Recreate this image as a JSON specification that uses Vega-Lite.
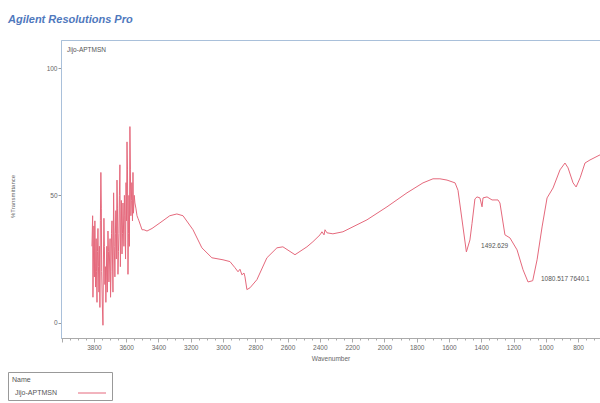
{
  "$schema": "https://vega.github.io/schema/vega-lite/v6.json",
  "autosize": "none",
  "width": 539,
  "height": 298,
  "padding": {"left": 61, "top": 40, "right": 0, "bottom": 65},
  "background": "white",
  "config": {
    "font": "Liberation Sans",
    "view": {"stroke": "#a9c0da", "strokeWidth": 1}
  },
  "title": {
    "text": "Agilent Resolutions Pro",
    "anchor": "start",
    "frame": "group",
    "dx": -53,
    "offset": 15,
    "font": "Liberation Sans",
    "fontSize": 11,
    "fontWeight": "bold",
    "fontStyle": "italic",
    "color": "#4f78bd"
  },
  "datasets": {
    "spectrum": [
      {"w": 3812, "t": 30}, {"w": 3808, "t": 42}, {"w": 3806, "t": 10}, {"w": 3803, "t": 25}, {"w": 3800, "t": 38},
      {"w": 3797, "t": 18}, {"w": 3794, "t": 40}, {"w": 3790, "t": 14}, {"w": 3786, "t": 33}, {"w": 3784, "t": 20}, {"w": 3781, "t": 8},
      {"w": 3778, "t": 28}, {"w": 3775, "t": 37}, {"w": 3772, "t": 22}, {"w": 3769, "t": 12}, {"w": 3766, "t": 30}, {"w": 3763, "t": 6},
      {"w": 3760, "t": 40}, {"w": 3757, "t": 59}, {"w": 3754, "t": 45}, {"w": 3752, "t": 20}, {"w": 3747, "t": 5},
      {"w": 3744, "t": -1}, {"w": 3741, "t": 25}, {"w": 3738, "t": 41}, {"w": 3735, "t": 30}, {"w": 3732, "t": 15},
      {"w": 3729, "t": 22}, {"w": 3726, "t": 8}, {"w": 3720, "t": 30}, {"w": 3717, "t": 12}, {"w": 3713, "t": 36}, {"w": 3710, "t": 28}, {"w": 3707, "t": 16},
      {"w": 3700, "t": 33}, {"w": 3697, "t": 10}, {"w": 3694, "t": 20}, {"w": 3691, "t": 35}, {"w": 3688, "t": 40}, {"w": 3685, "t": 25}, {"w": 3682, "t": 12},
      {"w": 3678, "t": 51}, {"w": 3674, "t": 30}, {"w": 3670, "t": 18}, {"w": 3667, "t": 35}, {"w": 3664, "t": 44}, {"w": 3661, "t": 25},
      {"w": 3657, "t": 56}, {"w": 3654, "t": 45}, {"w": 3651, "t": 19}, {"w": 3648, "t": 28}, {"w": 3645, "t": 35}, {"w": 3642, "t": 50}, {"w": 3639, "t": 62},
      {"w": 3636, "t": 22}, {"w": 3633, "t": 38}, {"w": 3630, "t": 48}, {"w": 3626, "t": 27}, {"w": 3623, "t": 35}, {"w": 3620, "t": 47}, {"w": 3614, "t": 30},
      {"w": 3611, "t": 50}, {"w": 3608, "t": 42}, {"w": 3604, "t": 25}, {"w": 3601, "t": 55}, {"w": 3598, "t": 40}, {"w": 3595, "t": 71}, {"w": 3592, "t": 60}, {"w": 3589, "t": 19},
      {"w": 3586, "t": 35}, {"w": 3583, "t": 50}, {"w": 3580, "t": 30}, {"w": 3577, "t": 77}, {"w": 3574, "t": 60}, {"w": 3571, "t": 42}, {"w": 3568, "t": 48}, {"w": 3565, "t": 55},
      {"w": 3561, "t": 40}, {"w": 3558, "t": 59}, {"w": 3555, "t": 43}, {"w": 3550, "t": 50}, {"w": 3546, "t": 47},
      {"w": 3540, "t": 45}, {"w": 3533, "t": 42}, {"w": 3527, "t": 41}, {"w": 3521, "t": 40},
      {"w": 3510, "t": 38}, {"w": 3502, "t": 36.5}, {"w": 3490, "t": 36.5}, {"w": 3471, "t": 36},
      {"w": 3440, "t": 37}, {"w": 3391, "t": 39.2}, {"w": 3330, "t": 42}, {"w": 3286, "t": 42.7},
      {"w": 3248, "t": 42}, {"w": 3186, "t": 36.5}, {"w": 3131, "t": 29.4}, {"w": 3069, "t": 25.5},
      {"w": 3000, "t": 24.7}, {"w": 2957, "t": 24}, {"w": 2926, "t": 21.6}, {"w": 2907, "t": 20},
      {"w": 2895, "t": 21}, {"w": 2883, "t": 18.8}, {"w": 2870, "t": 19.5}, {"w": 2864, "t": 18},
      {"w": 2852, "t": 13}, {"w": 2833, "t": 13.7}, {"w": 2790, "t": 16.9}, {"w": 2728, "t": 25.5},
      {"w": 2666, "t": 29.4}, {"w": 2629, "t": 29.8}, {"w": 2554, "t": 26.7}, {"w": 2480, "t": 29.8},
      {"w": 2443, "t": 31.8}, {"w": 2399, "t": 34.5}, {"w": 2387, "t": 35.7}, {"w": 2374, "t": 34.5},
      {"w": 2368, "t": 36.5}, {"w": 2356, "t": 35.3}, {"w": 2319, "t": 34.9}, {"w": 2257, "t": 35.7},
      {"w": 2108, "t": 40.4}, {"w": 1984, "t": 45.5}, {"w": 1860, "t": 51}, {"w": 1761, "t": 54.9},
      {"w": 1699, "t": 56.5}, {"w": 1656, "t": 56.5}, {"w": 1612, "t": 56}, {"w": 1562, "t": 54.9},
      {"w": 1544, "t": 52}, {"w": 1513, "t": 37.6}, {"w": 1492, "t": 27.8}, {"w": 1470, "t": 32.5},
      {"w": 1457, "t": 39}, {"w": 1439, "t": 48.6}, {"w": 1426, "t": 49.4}, {"w": 1408, "t": 49},
      {"w": 1395, "t": 45.5}, {"w": 1389, "t": 49}, {"w": 1364, "t": 49.4}, {"w": 1333, "t": 48.2},
      {"w": 1296, "t": 48.2}, {"w": 1284, "t": 47}, {"w": 1253, "t": 34.5}, {"w": 1222, "t": 33.3},
      {"w": 1178, "t": 28.6}, {"w": 1141, "t": 20.8}, {"w": 1110, "t": 16}, {"w": 1081, "t": 16.5},
      {"w": 1054, "t": 24.7}, {"w": 1023, "t": 37.6}, {"w": 992, "t": 49}, {"w": 955, "t": 52.9},
      {"w": 912, "t": 60}, {"w": 881, "t": 62.7}, {"w": 862, "t": 60.8}, {"w": 831, "t": 54.9},
      {"w": 812, "t": 53.3}, {"w": 787, "t": 56.9}, {"w": 757, "t": 62.7}, {"w": 726, "t": 63.9},
      {"w": 664, "t": 65.9}
    ],
    "labels": [
      {"w": 3967, "t": 107, "label": "Jijo-APTMSN"},
      {"w": 1401, "t": 30, "label": "1492.629"},
      {"w": 1030, "t": 17.3, "label": "1080.517  7640.1"}
    ]
  },
  "layer": [
    {
      "data": {"name": "spectrum"},
      "transform": [{"calculate": "'Jijo-APTMSN'", "as": "name"}],
      "mark": {"type": "line", "strokeWidth": 1, "clip": true},
      "encoding": {
        "x": {
          "field": "w",
          "type": "quantitative",
          "scale": {"domain": [664, 4004], "reverse": true, "nice": false, "zero": false},
          "axis": {
            "title": "Wavenumber",
            "values": [700, 750, 800, 850, 900, 950, 1000, 1050, 1100, 1150, 1200, 1250, 1300, 1350, 1400, 1450, 1500, 1550, 1600, 1650, 1700, 1750, 1800, 1850, 1900, 1950, 2000, 2050, 2100, 2150, 2200, 2250, 2300, 2350, 2400, 2450, 2500, 2550, 2600, 2650, 2700, 2750, 2800, 2850, 2900, 2950, 3000, 3050, 3100, 3150, 3200, 3250, 3300, 3350, 3400, 3450, 3500, 3550, 3600, 3650, 3700, 3750, 3800, 3850, 3900, 3950, 4000],
            "tickCount": 200,
            "labelExpr": "datum.value % 200 === 0 && datum.value < 3900 ? datum.label : ''",
            "format": "d",
            "tickSize": {"condition": {"test": "datum.value % 200 === 0", "value": 4}, "value": 2},
            "tickColor": "#aaaaaa",
            "domainColor": "#aaaaaa",
            "labelFontSize": 6.5,
            "labelColor": "#666666",
            "labelPadding": 2,
            "labelFlush": false,
            "labelOverlap": false,
            "labelBound": false,
            "titleFontSize": 6.5,
            "titleFontWeight": "normal",
            "titleColor": "#666666",
            "titlePadding": 5,
            "grid": false
          }
        },
        "y": {
          "field": "t",
          "type": "quantitative",
          "scale": {"domain": [-6, 111], "nice": false, "zero": false},
          "axis": {
            "title": "%Transmittance",
            "values": [0, 50, 100],
            "tickSize": 3,
            "tickColor": "#999999",
            "domainColor": "#a9c0da",
            "labelFontSize": 6.5,
            "labelColor": "#666666",
            "labelPadding": 1,
            "titleFontSize": 6,
            "titleFontWeight": "normal",
            "titleColor": "#666666",
            "titleX": -49,
            "titleY": 156,
            "titleAlign": "center",
            "titleBaseline": "middle",
            "grid": false
          }
        },
        "color": {
          "field": "name",
          "type": "nominal",
          "scale": {"domain": ["Jijo-APTMSN"], "range": ["#e5697c"]},
          "legend": {
            "orient": "none",
            "legendX": -53,
            "legendY": 332,
            "title": "Name",
            "titleFontSize": 7,
            "titleFontWeight": "normal",
            "titleColor": "#555555",
            "titlePadding": 6,
            "labelFontSize": 7,
            "labelColor": "#555555",
            "symbolType": "M-4,0H4",
            "symbolSize": 49,
            "symbolStrokeWidth": 1,
            "symbolOffset": 76,
            "labelOffset": -81,
            "strokeColor": "#999999",
            "fillColor": "white",
            "padding": 4,
            "cornerRadius": 0
          }
        }
      }
    },
    {
      "data": {"name": "labels"},
      "mark": {"type": "text", "align": "left", "baseline": "middle", "fontSize": 6.5, "color": "#555555", "font": "Liberation Sans"},
      "encoding": {
        "x": {"field": "w", "type": "quantitative"},
        "y": {"field": "t", "type": "quantitative"},
        "text": {"field": "label", "type": "nominal"}
      }
    }
  ]
}
